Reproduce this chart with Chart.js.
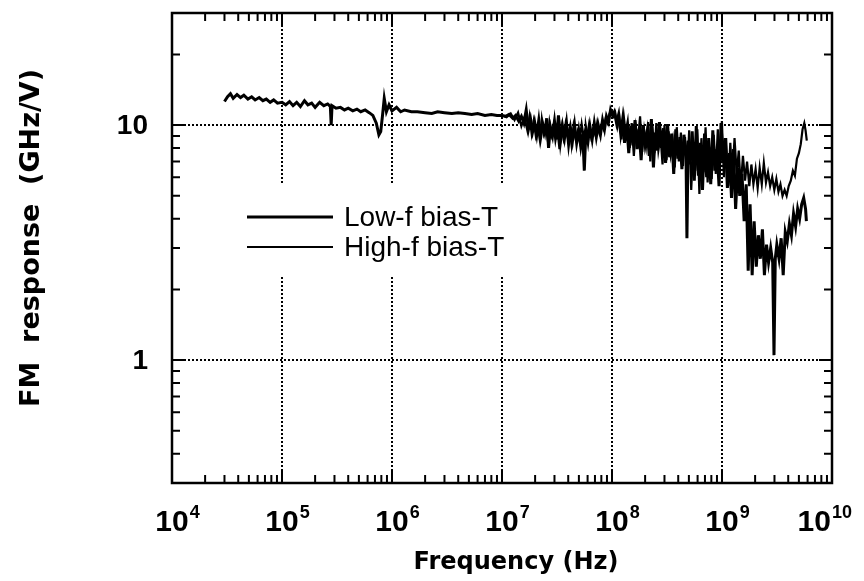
<!DOCTYPE html>
<html>
<head>
<meta charset="utf-8">
<script src="https://cdn.jsdelivr.net/npm/chart.js@4/dist/chart.umd.min.js"></script>
<style>
  html, body { margin: 0; padding: 0; background: #fff; }
  #wrap { width: 864px; height: 581px; }
</style>
</head>
<body>
<div id="wrap"><canvas id="fm"></canvas></div>
<script>
// series: Low-f bias-T (measured from 3e4 Hz)
const freqLow = [
  3.0e4, 3.2e4, 3.4e4, 3.6e4, 3.9e4, 4.2e4, 4.5e4, 4.9e4, 5.3e4, 5.7e4,
  6.2e4, 6.7e4, 7.2e4, 7.8e4, 8.4e4, 9.1e4, 1.0e5, 1.08e5, 1.17e5, 1.26e5,
  1.36e5, 1.47e5, 1.6e5, 1.72e5, 1.86e5, 2.0e5, 2.2e5, 2.4e5, 2.6e5, 2.75e5,
  2.8e5, 2.85e5, 3.1e5, 3.4e5, 3.7e5, 4.0e5, 4.4e5, 4.8e5, 5.2e5, 5.7e5,
  6.2e5, 6.7e5, 7.2e5, 7.6e5, 7.9e5, 8.2e5, 8.5e5, 8.9e5, 9.4e5, 1.0e6,
  1.1e6, 1.2e6, 1.3e6, 1.5e6, 1.7e6, 2.0e6, 2.3e6, 2.6e6, 3.0e6, 3.5e6,
  4.0e6, 4.6e6, 5.3e6, 6.0e6, 7.0e6, 8.0e6, 9.0e6,
  1.0e7, 1.08e7, 1.16e7, 1.25e7, 1.33e7, 1.42e7, 1.5e7, 1.58e7, 1.66e7, 1.74e7,
  1.82e7, 1.9e7, 1.98e7, 2.07e7, 2.16e7, 2.25e7, 2.35e7, 2.45e7, 2.55e7, 2.65e7,
  2.76e7, 2.88e7, 3.0e7, 3.13e7, 3.26e7, 3.4e7, 3.55e7, 3.7e7, 3.86e7, 4.03e7,
  4.2e7, 4.38e7, 4.57e7, 4.77e7, 4.98e7, 5.2e7, 5.42e7, 5.6e7, 5.8e7, 6.05e7,
  6.3e7, 6.6e7, 6.9e7, 7.2e7, 7.5e7, 7.85e7, 8.2e7, 8.55e7, 8.9e7, 9.3e7,
  9.7e7, 1.01e8, 1.05e8, 1.1e8, 1.15e8, 1.2e8, 1.25e8, 1.3e8, 1.36e8, 1.42e8,
  1.48e8, 1.55e8, 1.62e8, 1.69e8, 1.76e8, 1.84e8, 1.92e8, 2.0e8, 2.09e8, 2.18e8,
  2.28e8, 2.38e8, 2.48e8, 2.59e8, 2.7e8, 2.82e8, 2.94e8, 3.07e8, 3.2e8, 3.34e8,
  3.49e8, 3.64e8, 3.8e8, 3.97e8, 4.14e8, 4.32e8, 4.51e8, 4.71e8, 4.8e8, 4.92e8,
  5.13e8, 5.36e8, 5.6e8, 5.84e8, 6.1e8, 6.37e8, 6.65e8, 6.94e8, 7.25e8, 7.57e8,
  7.9e8, 8.25e8, 8.6e8, 9.0e8, 9.4e8, 9.8e8, 1.02e9, 1.07e9, 1.12e9, 1.17e9,
  1.22e9, 1.27e9, 1.33e9, 1.39e9, 1.45e9, 1.52e9, 1.59e9, 1.66e9, 1.73e9, 1.8e9,
  1.88e9, 1.96e9, 2.05e9, 2.14e9, 2.23e9, 2.33e9, 2.43e9, 2.54e9, 2.65e9, 2.77e9,
  2.89e9, 2.97e9, 3.05e9, 3.15e9, 3.3e9, 3.45e9, 3.6e9, 3.76e9, 3.92e9, 4.1e9,
  4.28e9, 4.47e9, 4.67e9, 4.87e9, 5.08e9, 5.3e9, 5.53e9, 5.75e9, 5.85e9
];
const respLow = [
  12.6, 13.2, 13.6, 13.0, 13.5, 13.1, 13.4, 12.9, 13.2, 12.8,
  13.1, 12.7, 12.9, 12.5, 12.8, 12.4, 12.5, 12.2, 12.6, 12.1,
  12.5, 12.0, 12.7, 12.2, 12.4, 11.9, 12.5, 12.1, 12.3, 12.0,
  10.0, 12.1, 11.8, 11.9, 11.6, 11.8, 11.5, 11.7, 11.4, 11.6,
  11.3, 11.0, 10.2, 9.1, 9.4, 11.0, 13.0, 11.4, 12.2, 11.5,
  11.9, 11.4, 11.6, 11.4, 11.4, 11.3, 11.2, 11.4, 11.3, 11.2,
  11.3, 11.2, 11.1, 11.2, 11.0, 11.1, 11.0,
  11.0, 10.9, 11.1, 10.7, 11.0, 10.4, 10.9, 10.2, 11.6, 9.6,
  10.6, 9.4, 10.3, 9.1, 10.5, 8.9, 10.1, 9.3, 10.7, 8.0,
  9.8, 9.0, 10.4, 8.7, 11.0, 8.5, 9.9, 8.8, 10.2, 8.3,
  9.7, 8.6, 10.0, 8.4, 9.5, 8.1, 9.2, 6.4, 9.6, 8.5,
  9.9, 8.7, 10.2, 8.9, 10.0, 9.1, 10.5, 9.6, 10.9, 10.3,
  11.6, 11.0, 11.4, 10.2, 11.1, 9.2, 10.6, 8.4, 10.1, 7.6,
  9.9, 8.2, 10.5, 7.9, 9.6, 7.1, 10.0, 8.3, 9.4, 7.4,
  10.6, 6.6, 9.3, 7.8, 10.3, 8.0, 9.7, 6.9, 10.1, 7.3,
  9.2, 6.2, 9.6, 7.2, 8.9, 6.5, 9.1, 7.4, 3.3, 8.6,
  6.8, 9.4, 5.8, 9.9, 6.1, 8.4, 5.3, 9.2, 6.0, 8.8,
  5.6, 9.5, 6.4, 7.9, 5.5, 10.2, 7.0, 8.8, 5.4, 7.6,
  4.9, 7.9, 4.4, 6.6, 5.0, 6.2, 3.9, 5.6, 2.4, 4.6,
  2.3, 3.9, 2.5, 3.4, 2.7, 3.6, 2.3, 3.1, 2.6, 3.0,
  2.6, 1.05, 2.7, 3.1, 2.7, 3.3, 2.3, 3.5, 3.2, 3.8,
  3.4, 4.2, 3.7, 4.4, 4.0, 4.6, 4.9, 4.4, 3.9
];

// series: High-f bias-T (measured from 1e7 Hz)
const freqHigh = [
  1.0e7, 1.1e7, 1.2e7, 1.3e7, 1.4e7, 1.5e7, 1.6e7, 1.7e7, 1.78e7, 1.86e7,
  1.94e7, 2.03e7, 2.12e7, 2.21e7, 2.3e7, 2.4e7, 2.5e7, 2.6e7, 2.7e7, 2.82e7,
  2.94e7, 3.06e7, 3.19e7, 3.33e7, 3.47e7, 3.62e7, 3.78e7, 3.94e7, 4.11e7, 4.29e7,
  4.47e7, 4.67e7, 4.87e7, 5.08e7, 5.3e7, 5.5e7, 5.7e7, 5.92e7, 6.17e7, 6.45e7,
  6.75e7, 7.05e7, 7.35e7, 7.68e7, 8.02e7, 8.37e7, 8.73e7, 9.1e7, 9.5e7, 9.9e7,
  1.03e8, 1.07e8, 1.12e8, 1.17e8, 1.22e8, 1.28e8, 1.33e8, 1.39e8, 1.45e8, 1.51e8,
  1.58e8, 1.65e8, 1.72e8, 1.8e8, 1.88e8, 1.96e8, 2.04e8, 2.13e8, 2.23e8, 2.33e8,
  2.43e8, 2.53e8, 2.64e8, 2.76e8, 2.88e8, 3.0e8, 3.13e8, 3.27e8, 3.42e8, 3.57e8,
  3.72e8, 3.88e8, 4.05e8, 4.23e8, 4.42e8, 4.61e8, 4.82e8, 5.03e8, 5.25e8, 5.48e8,
  5.72e8, 5.97e8, 6.23e8, 6.5e8, 6.79e8, 7.09e8, 7.4e8, 7.72e8, 8.06e8, 8.41e8,
  8.78e8, 9.16e8, 9.56e8, 9.98e8, 1.04e9, 1.09e9, 1.14e9, 1.19e9, 1.24e9, 1.3e9,
  1.36e9, 1.42e9, 1.48e9, 1.55e9, 1.62e9, 1.69e9, 1.77e9, 1.85e9, 1.93e9, 2.02e9,
  2.11e9, 2.2e9, 2.3e9, 2.4e9, 2.51e9, 2.62e9, 2.74e9, 2.86e9, 2.99e9, 3.12e9,
  3.26e9, 3.4e9, 3.55e9, 3.71e9, 3.87e9, 4.04e9, 4.22e9, 4.41e9, 4.6e9, 4.8e9,
  5.0e9, 5.2e9, 5.4e9, 5.6e9, 5.75e9, 5.9e9
];
const respHigh = [
  11.0, 10.8, 11.2, 10.5, 11.3, 9.9, 10.8, 9.5, 10.9, 9.2,
  10.4, 9.0, 9.8, 8.6, 10.6, 9.2, 9.9, 8.7, 10.3, 9.1,
  10.0, 8.6, 9.6, 7.9, 9.8, 8.8, 10.1, 9.0, 9.7, 8.2,
  9.9, 8.8, 9.4, 8.6, 10.1, 9.0, 9.5, 8.8, 10.0, 8.9,
  9.7, 9.1, 10.3, 9.3, 10.0, 9.6, 10.6, 10.2, 11.2, 11.5,
  10.9, 11.3, 9.8, 10.7, 8.7, 10.9, 9.3, 10.4, 8.0, 10.2,
  7.4, 9.8, 8.6, 10.9, 7.7, 9.5, 8.2, 10.3, 7.0, 9.9,
  7.6, 10.2, 7.8, 9.0, 6.8, 10.0, 7.1, 9.4, 7.5, 8.6,
  6.6, 9.8, 7.0, 9.3, 6.7, 8.9, 6.1, 9.5, 5.3, 8.2,
  6.4, 9.6, 5.1, 8.8, 6.3, 9.8, 5.7, 8.0, 5.9, 9.1,
  6.2, 9.6, 6.8, 10.4, 6.0, 8.8, 5.5, 8.4, 5.9, 8.8,
  6.2, 7.8, 5.4, 7.4, 5.8, 7.0, 5.5, 6.8, 5.6, 6.5,
  5.4, 6.6, 5.6, 6.9, 5.7, 6.3, 5.5, 6.0, 5.3, 5.9,
  5.2, 5.6, 5.0, 5.3, 5.0, 5.5, 5.8, 6.4, 6.1, 7.2,
  7.6, 8.3, 9.6, 10.2, 9.5, 8.6
];

const xDecades = [1e4, 1e5, 1e6, 1e7, 1e8, 1e9, 1e10];
const yDecades = [1, 10];
const yLabels = ['1', '10'];
const seriesNames = ['Low-f bias-T', 'High-f bias-T'];

const FONT = '"Liberation Sans", Arial, Helvetica, sans-serif';
const WIDE = '"DejaVu Sans", "Liberation Sans", sans-serif';

const toPoints = (xs, ys) => xs.map((f, i) => ({ x: f, y: ys[i] }));

// frame, inward ticks, labels, titles and legend
const decor = {
  id: 'decor',
  beforeDatasetsDraw(chart) {
    // white box behind the legend cuts the dotted grid
    const c = chart.ctx;
    c.save();
    c.fillStyle = '#fff';
    c.fillRect(238, 184, 290, 93);
    c.restore();
  },
  afterDraw(chart) {
    const c = chart.ctx;
    const a = chart.chartArea;
    const xs = chart.scales.x, ys = chart.scales.y;
    c.save();
    c.strokeStyle = '#000';
    c.fillStyle = '#000';
    c.lineWidth = 2.5;
    c.strokeRect(a.left, a.top, a.right - a.left, a.bottom - a.top);

    // x ticks, bottom and top
    c.lineWidth = 2;
    for (let n = 4; n < 10; n++) {
      for (let k = 1; k <= 9; k++) {
        if (n === 4 && k === 1) continue;
        const px = xs.getPixelForValue(k * Math.pow(10, n));
        const len = k === 1 ? 13 : 8;
        c.beginPath();
        c.moveTo(px, a.bottom); c.lineTo(px, a.bottom - len);
        c.moveTo(px, a.top); c.lineTo(px, a.top + len);
        c.stroke();
      }
    }
    // y ticks, left and right
    for (let n = -1; n <= 1; n++) {
      for (let k = 1; k <= 9; k++) {
        const v = k * Math.pow(10, n);
        if (v <= 0.3 + 1e-9 || v >= 30 - 1e-9) continue;
        const py = ys.getPixelForValue(v);
        const len = k === 1 ? 13 : 8;
        c.beginPath();
        c.moveTo(a.left, py); c.lineTo(a.left + len, py);
        c.moveTo(a.right, py); c.lineTo(a.right - len, py);
        c.stroke();
      }
    }

    // x tick labels 10^n, base centred on the tick
    c.textBaseline = 'alphabetic';
    c.textAlign = 'left';
    xDecades.forEach((v) => {
      const px = xs.getPixelForValue(v);
      const exp = String(Math.round(Math.log10(v)));
      c.font = 'bold 30px ' + FONT;
      const wb = c.measureText('10').width;
      c.font = 'bold 18px ' + FONT;
      const we = c.measureText(exp).width;
      let x0 = px - wb / 2;
      if (x0 + wb + 1 + we > 852) x0 = 852 - wb - 1 - we;
      c.font = 'bold 30px ' + FONT;
      c.fillText('10', x0, 531);
      c.font = 'bold 18px ' + FONT;
      c.fillText(exp, x0 + wb + 1, 518);
    });

    // y tick labels
    c.font = 'bold 28px ' + FONT;
    c.textAlign = 'right';
    yDecades.forEach((v, i) => {
      c.fillText(yLabels[i], 148, ys.getPixelForValue(v) + 9);
    });

    // axis titles
    c.textAlign = 'center';
    c.font = 'bold 24px ' + WIDE;
    c.fillText('Frequency (Hz)', 516, 569);
    c.save();
    c.translate(32, 238);
    c.rotate(-Math.PI / 2);
    c.textBaseline = 'middle';
    c.font = 'bold 27px ' + WIDE;
    c.fillText('FM  response  (GHz/V)', 0, 0);
    c.restore();

    // legend
    const widths = [3, 2];
    [217, 247].forEach((yy, i) => {
      c.lineWidth = widths[i];
      c.beginPath();
      c.moveTo(247, yy); c.lineTo(333, yy);
      c.stroke();
      c.font = '28px ' + FONT;
      c.textAlign = 'left';
      c.textBaseline = 'middle';
      c.fillText(seriesNames[i], 344, yy + 1);
    });
    c.restore();
  }
};

const ctx = document.getElementById('fm');

const data = {
  datasets: [
    {
      label: seriesNames[0],
      data: toPoints(freqLow, respLow),
      borderColor: '#000',
      borderWidth: 3,
      pointRadius: 0,
      tension: 0,
    },
    {
      label: seriesNames[1],
      data: toPoints(freqHigh, respHigh),
      borderColor: '#000',
      borderWidth: 2.2,
      pointRadius: 0,
      tension: 0,
    }
  ]
};

const dotted = {
  display: true,
  drawTicks: false,
  lineWidth: 2,
  color: '#000',
};

const config = {
  type: 'line',
  data: data,
  options: {
    responsive: true,
    maintainAspectRatio: false,
    animation: false,
    events: [],
    layout: { padding: { left: 172, right: 32, top: 13, bottom: 98 } },
    plugins: {
      legend: { display: false },
      tooltip: { enabled: false },
    },
    scales: {
      x: {
        type: 'logarithmic',
        min: 1e4,
        max: 1e10,
        ticks: { display: false },
        grid: dotted,
        border: { display: false, dash: [2, 2] },
        afterBuildTicks: (s) => { s.ticks = xDecades.map((v) => ({ value: v })); },
        afterFit: (s) => { s.height = 0; },
      },
      y: {
        type: 'logarithmic',
        min: 0.3,
        max: 30,
        ticks: { display: false },
        grid: dotted,
        border: { display: false, dash: [2, 2] },
        afterBuildTicks: (s) => { s.ticks = yDecades.map((v) => ({ value: v })); },
        afterFit: (s) => { s.width = 0; },
      },
    },
  },
  plugins: [decor],
};

const fmChart = new Chart(ctx, config);
</script>
</body>
</html>
